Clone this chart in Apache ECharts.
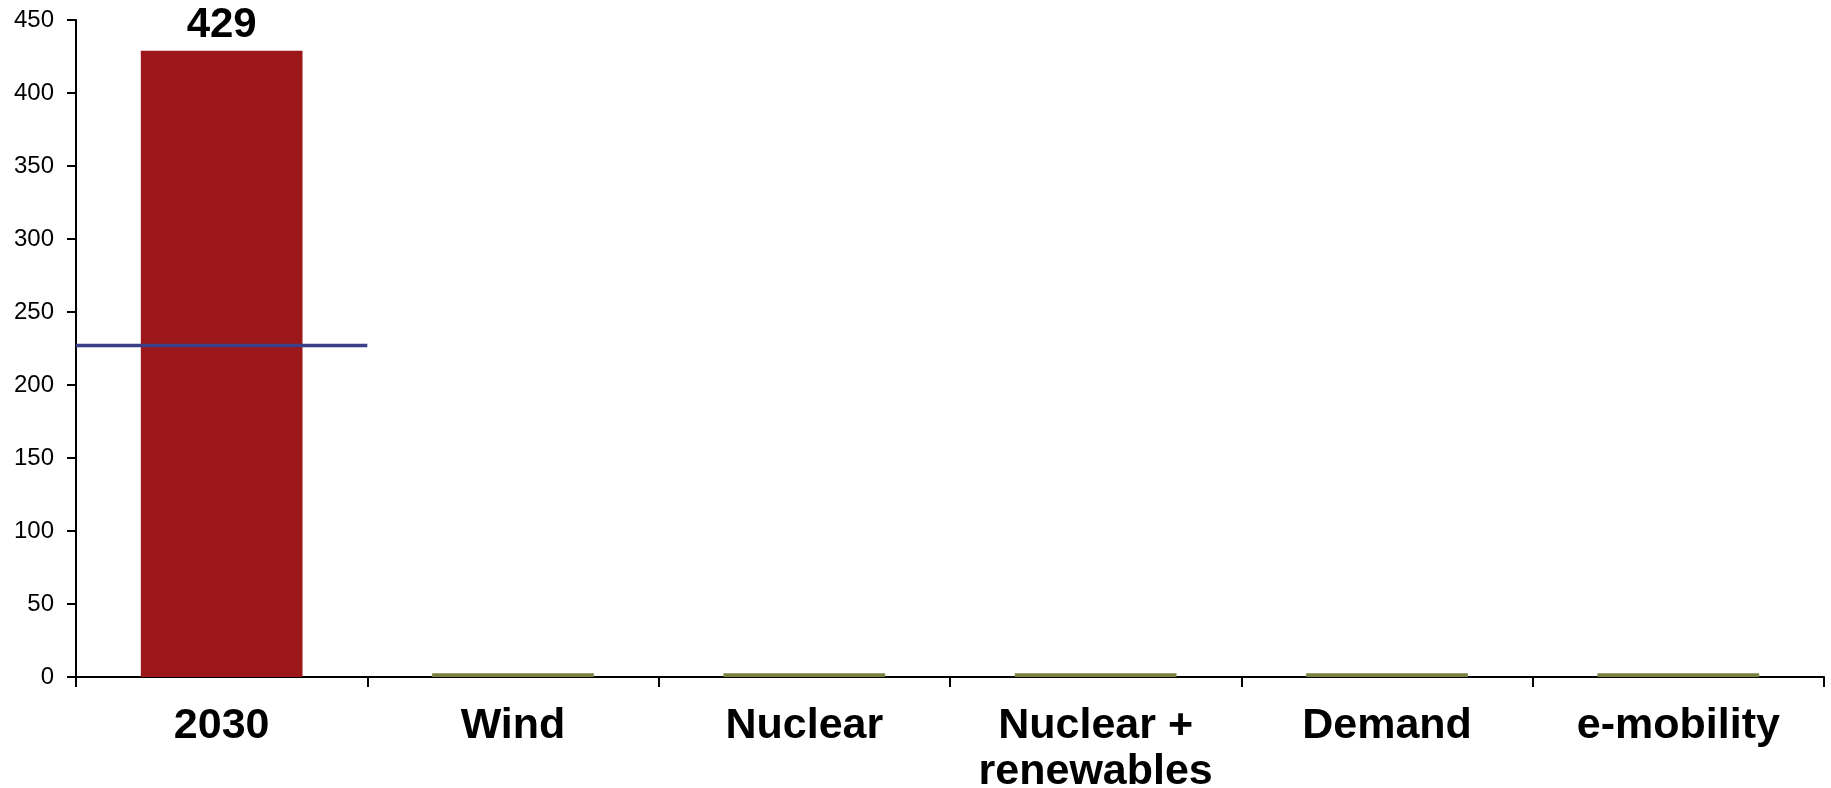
<!DOCTYPE html>
<html>
<head>
<meta charset="utf-8">
<script src="https://cdn.jsdelivr.net/npm/echarts@6/dist/echarts.min.js"></script>
<style>
  html, body { margin: 0; padding: 0; background: #fff; }
  #chart { width: 1831px; height: 788px; }
</style>
</head>
<body>
<div id="chart"></div>
<script>
// Scenario categories along the x axis
const categories = ['2030', 'Wind', 'Nuclear', 'Nuclear +\nrenewables', 'Demand', 'e-mobility'];
// Bar values per scenario
const values = [429, 2.5, 2.5, 2.5, 2.5, 2.5];
// Reference level drawn across the first category
const referenceLevel = 227;
// Y axis range and step
const yMin = 0, yMax = 450, yStep = 50;

const barColors = ['#9b1719', '#7a8040', '#7a8040', '#7a8040', '#7a8040', '#7a8040'];

const chart = echarts.init(document.getElementById('chart'));

chart.setOption({
  animation: false,
  backgroundColor: '#ffffff',
  grid: { left: 76, right: 7, top: 20, bottom: 111, containLabel: false, outerBoundsMode: 'none' },
  xAxis: [
    {
      type: 'category',
      data: categories,
      boundaryGap: true,
      axisLine: { show: true, lineStyle: { color: '#000', width: 2 } },
      axisTick: { show: true, length: 10, alignWithLabel: false, lineStyle: { color: '#000', width: 2 } },
      axisLabel: {
        color: '#000',
        fontFamily: '"Liberation Sans", Arial, sans-serif',
        fontWeight: 'bold',
        fontSize: 43,
        lineHeight: 46,
        margin: 26,
        interval: 0
      }
    },
    {
      // hidden linear axis spanning the same width, used to place the reference line
      type: 'value',
      min: 0,
      max: categories.length,
      show: false
    }
  ],
  yAxis: {
    type: 'value',
    min: yMin,
    max: yMax,
    interval: yStep,
    splitLine: { show: false },
    axisLine: { show: true, lineStyle: { color: '#000', width: 2 } },
    axisTick: { show: true, length: 9, lineStyle: { color: '#000', width: 2 } },
    axisLabel: {
      color: '#000',
      fontFamily: '"Liberation Sans", Arial, sans-serif',
      fontSize: 24,
      margin: 22
    }
  },
  series: [
    {
      type: 'bar',
      xAxisIndex: 0,
      barWidth: '55.5%',
      data: values.map((v, i) => ({
        value: v,
        itemStyle: { color: barColors[i] },
        label: {
          show: i === 0,
          position: 'top',
          distance: 4,
          color: '#000',
          fontFamily: '"Liberation Sans", Arial, sans-serif',
          fontWeight: 'bold',
          fontSize: 42
        }
      }))
    },
    {
      type: 'line',
      xAxisIndex: 1,
      symbol: 'none',
      lineStyle: { color: '#3a3f88', width: 3.5 },
      data: [[0, referenceLevel], [1, referenceLevel]],
      z: 5
    }
  ]
});
</script>
</body>
</html>
